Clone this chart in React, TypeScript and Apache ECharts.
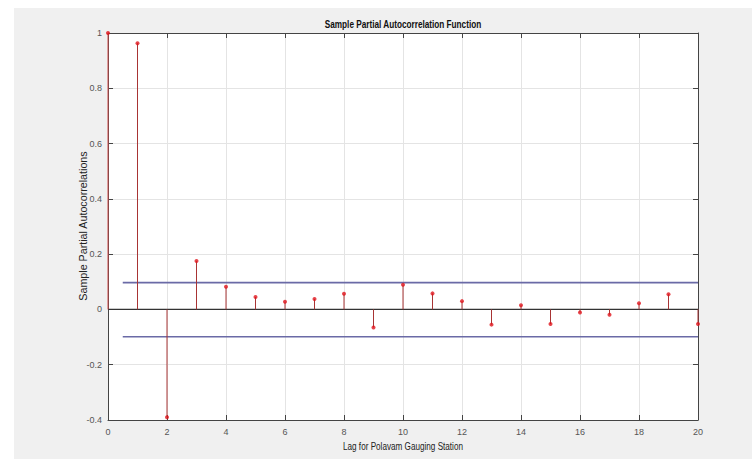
import React, { useEffect, useRef } from "react";
import * as echarts from "echarts";

const lags = [0, 1, 2, 3, 4, 5, 6, 7, 8, 9, 10, 11, 12, 13, 14, 15, 16, 17, 18, 19, 20];
const pacf = [1, 0.963, -0.39, 0.175, 0.082, 0.045, 0.028, 0.038, 0.057, -0.065, 0.089, 0.058, 0.03, -0.055, 0.015, -0.053, -0.011, -0.019, 0.022, 0.055, -0.053];
const upperBound = 0.097;
const lowerBound = -0.099;
const boundStart = 0.5;
const boundEnd = 20;

const titleText = "Sample Partial Autocorrelation Function";
const xLabel = "Lag for Polavam Gauging Station";
const yLabel = "Sample Partial Autocorrelations";

const FONT = "'Liberation Sans', Arial, sans-serif";

function fitScale(text: string, font: string, target: number): number {
  try {
    const ctx = document.createElement("canvas").getContext("2d");
    if (!ctx) return 1;
    ctx.font = font;
    const w = ctx.measureText(text).width;
    return w > 0 ? target / w : 1;
  } catch (e) {
    return 1;
  }
}

export default function App() {
  const ref = useRef<HTMLDivElement>(null);
  useEffect(() => {
    if (!ref.current) return;
    const chart = echarts.init(ref.current, undefined, { renderer: "svg" });
    const points = lags.map((l, i) => [l, pacf[i]]);
    const stemColor = "#a83434";
    const fmt = (v: number) => String(Math.round(v * 10) / 10);
    const titleFont = `bold 11px ${FONT}`;
    const xFont = `11px ${FONT}`;
    const yFont = `11px ${FONT}`;
    const titleScale = fitScale(titleText, titleFont, 157);
    const xScale = fitScale(xLabel, xFont, 120);
    const yScale = fitScale(yLabel, yFont, 150);
    chart.setOption({
      animation: false,
      backgroundColor: "#ffffff",
      graphic: [
        {
          type: "rect",
          z: -10,
          silent: true,
          shape: { x: 14, y: 8, width: 752 - 14, height: 459 - 8 },
          style: { fill: "#f0f0f0" },
        },
        {
          type: "text",
          x: 403,
          y: 24,
          scaleX: titleScale,
          style: {
            text: titleText,
            font: titleFont,
            fill: "#111",
            textAlign: "center",
            textVerticalAlign: "middle",
          },
        },
        {
          type: "text",
          x: 403,
          y: 446,
          scaleX: xScale,
          style: {
            text: xLabel,
            font: xFont,
            fill: "#222",
            textAlign: "center",
            textVerticalAlign: "middle",
          },
        },
        {
          type: "text",
          x: 83,
          y: 226,
          rotation: Math.PI / 2,
          scaleX: yScale,
          style: {
            text: yLabel,
            font: yFont,
            fill: "#222",
            textAlign: "center",
            textVerticalAlign: "middle",
          },
        },
      ],
      grid: { left: 108, right: 54, top: 33, bottom: 39, backgroundColor: "#ffffff", show: true, borderWidth: 0 },
      xAxis: [
        {
          type: "value",
          min: 0,
          max: 20,
          interval: 2,
          axisLine: { show: true, onZero: false, lineStyle: { color: "#444", width: 1 } },
          axisTick: { show: true, inside: true, length: 5, lineStyle: { color: "#444" } },
          axisLabel: { margin: 7, color: "#555", fontSize: 9, fontFamily: FONT },
          splitLine: { show: true, lineStyle: { color: "#e4e4e4", width: 1 } },
        },
        {
          type: "value",
          position: "top",
          min: 0,
          max: 20,
          interval: 2,
          axisLine: { show: true, onZero: false, lineStyle: { color: "#444", width: 1 } },
          axisTick: { show: true, inside: true, length: 5, lineStyle: { color: "#444" } },
          axisLabel: { show: false },
          splitLine: { show: false },
        },
      ],
      yAxis: [
        {
          type: "value",
          min: -0.4,
          max: 1,
          interval: 0.2,
          axisLine: { show: true, onZero: false, lineStyle: { color: "#444", width: 1 } },
          axisTick: { show: true, inside: true, length: 5, lineStyle: { color: "#444" } },
          axisLabel: { margin: 6, color: "#555", fontSize: 9, fontFamily: FONT, formatter: fmt },
          splitLine: { show: true, lineStyle: { color: "#e4e4e4", width: 1 } },
        },
        {
          type: "value",
          position: "right",
          min: -0.4,
          max: 1,
          interval: 0.2,
          axisLine: { show: true, onZero: false, lineStyle: { color: "#444", width: 1 } },
          axisTick: { show: true, inside: true, length: 5, lineStyle: { color: "#444" } },
          axisLabel: { show: false },
          splitLine: { show: false },
        },
      ],
      series: [
        {
          type: "line",
          data: [[0, 0], [20, 0]],
          symbol: "none",
          lineStyle: { color: "#333", width: 1.2 },
          z: 2,
        },
        {
          type: "line",
          data: [[boundStart, upperBound], [boundEnd, upperBound]],
          symbol: "none",
          lineStyle: { color: "#6a6aa6", width: 1.6 },
          z: 2,
        },
        {
          type: "line",
          data: [[boundStart, lowerBound], [boundEnd, lowerBound]],
          symbol: "none",
          lineStyle: { color: "#6a6aa6", width: 1.6 },
          z: 2,
        },
        {
          type: "custom",
          data: points,
          clip: false,
          z: 3,
          renderItem: (params: any, api: any) => {
            const x = api.value(0);
            const y = api.value(1);
            const p0 = api.coord([x, 0]);
            const p1 = api.coord([x, y]);
            return {
              type: "line",
              shape: { x1: p0[0], y1: p0[1], x2: p1[0], y2: p1[1] },
              style: { stroke: x === 0 ? "#d04848" : stemColor, lineWidth: 1 },
            };
          },
        },
        {
          type: "scatter",
          data: points,
          symbol: "circle",
          symbolSize: 4,
          itemStyle: { color: "#e0141c" },
          z: 4,
        },
      ],
    });
    return () => chart.dispose();
  }, []);
  return (
    <div
      ref={ref}
      style={{ position: "fixed", left: 0, top: 0, width: 752, height: 459 }}
    />
  );
}
